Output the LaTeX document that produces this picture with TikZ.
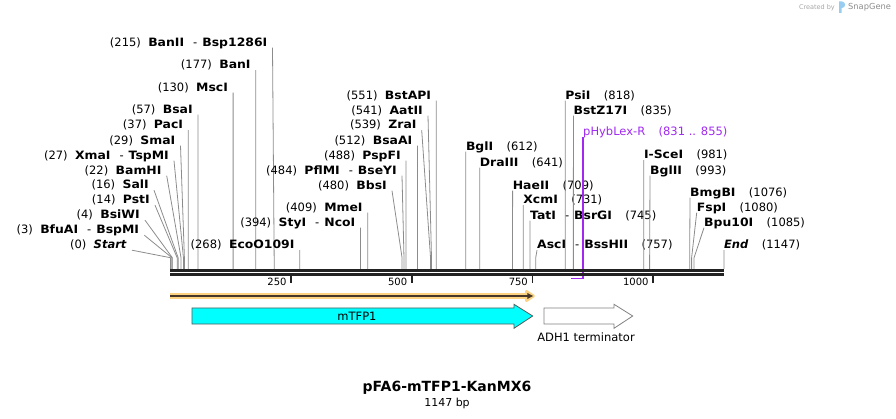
\documentclass[tikz,border=0pt]{standalone}
\usepackage{fontspec}
\setmainfont{DejaVu Sans}[BoldFeatures={FakeStretch=1.08}]
\newfontfamily\titlefont{DejaVu Sans}
\usetikzlibrary{arrows.meta}
\definecolor{cutgray}{RGB}{140,140,140}
\definecolor{barblack}{RGB}{34,34,34}
\definecolor{primerviolet}{RGB}{160,40,240}
\definecolor{orfglow}{RGB}{253,210,130}
\definecolor{orfline}{RGB}{70,55,40}
\definecolor{featcyan}{RGB}{0,255,255}
\definecolor{logoblue}{RGB}{150,205,240}
\newcommand\orsep{\hspace{9pt}\textmd{-}\hspace{5pt}}
\tikzset{
  enzyme/.style={inner sep=0pt, font=\fontsize{11.5}{13}\selectfont\bfseries},
  sitepos/.style={inner sep=0pt, font=\fontsize{11.5}{13}\selectfont},
  cutline/.style={draw=cutgray, line width=0.8pt},
  featarrow/.style={draw=black!65, line width=0.8pt},
}
\begin{document}
\begin{tikzpicture}[x=1pt,y=-1pt]
  \useasboundingbox (0,0) rectangle (896,419);
  % enzymes written left of their cut
  \foreach \p/\nm/\ax/\y [count=\i] in {215/BanII\orsep Bsp1286I/267.5/42,177/BanI/250.8/64.5,
            130/MscI/228.1/87,57/BsaI/192.9/109,37/PacI/183.3/124.5,29/SmaI/175.5/140,
            27/XmaI\orsep TspMI/169/155,22/BamHI/161.7/170,16/SalI/149/184.5,14/PstI/150/199.5,
            4/BsiWI/140/214.5,3/BfuAI\orsep BspMI/139.3/229.5,0/\textit{Start}/127/244.5,
            268/EcoO109I/294.7/244.5,394/StyI\orsep NcoI/355.5/222,409/MmeI/362.8/207,
            480/BbsI/387/185,484/PflMI\orsep BseYI/397/170,488/PspFI/400.9/155,
            512/BsaAI/412.5/140,539/ZraI/416.7/124.5,541/AatII/423/110,551/BstAPI/431.3/95}{
    \pgfmathsetmacro\sx{170.4+\p*0.4826}
    \node[enzyme, anchor=base east] (L\i) at (\ax,\y+4.2) {\nm};
    \node[sitepos, anchor=base east] (Ln\i) at ([xshift=-7pt]L\i.base west) {(\p)};
    \coordinate (La\i) at ([shift={(5,1.5)}]L\i.base east);
    \coordinate (Le\i) at (\sx,257.7);
    \coordinate (Ls\i) at (\sx,269.2);
    \draw[cutline] (La\i) -- (Le\i) -- (Ls\i);
  }
  % enzymes written right of their cut
  \foreach \p/\nm/\ax/\y [count=\i] in {612/BglI/465.8/146,641/DraIII/479.7/162,709/HaeII/512.6/185,
            731/XcmI/523.2/199.5,745/TatI\orsep BsrGI/530/215,757/AscI\orsep BssHII/537/244.5,
            818/PsiI/565.2/95,835/BstZ17I/573.4/110,981/I-SceI/643.8/154.5,993/BglII/650/170,
            1076/BmgBI/690/192,1080/FspI/696.7/207,1085/Bpu10I/704/222,1147/\textit{End}/723.9/244.5}{
    \pgfmathsetmacro\sx{170.4+\p*0.4826}
    \node[enzyme, anchor=base west] (R\i) at (\ax,\y+4.2) {\nm};
    \node[sitepos, anchor=base west] (Rn\i) at ([xshift=13pt]R\i.base east) {(\p)};
    \coordinate (Ra\i) at ([shift={(0,1.5)}]R\i.base west);
    \coordinate (Re\i) at (\sx,257.7);
    \coordinate (Rs\i) at (\sx,269.2);
    \draw[cutline] (Ra\i) -- (Re\i) -- (Rs\i);
  }
  % primer
  \node[sitepos, text=primerviolet, anchor=base west] (primer) at (583,135.9) {pHybLex-R};
  \node[sitepos, text=primerviolet, anchor=base west] (primerpos) at ([xshift=13pt]primer.base east) {(831 .. 855)};
  \coordinate (primerend) at (571.4,278.3);
  \draw[primerviolet, line width=1.2pt] ([shift={(0,1.5)}]primer.base west) |- (primerend);
  % sequence
  \coordinate (seqstart) at (170.4,270.5);
  \coordinate (seqend) at (723.9,270.5);
  \draw[barblack, line width=2.4pt] (seqstart) -- (seqend);
  \draw[barblack, line width=2.4pt] ([yshift=-4pt]seqstart) -- ([yshift=-4pt]seqend);
  \foreach \t in {250,500,750,1000}{
    \pgfmathsetmacro\tx{170.4+\t*0.4826}
    \coordinate (tk\t) at (\tx,276.3);
    \draw[barblack, line width=1.6pt] (tk\t) -- ++(0,6.5);
    \node[inner sep=0pt, font=\fontsize{10}{12}\selectfont, anchor=east] (tl\t) at (\tx-4.3,281.7) {\t};
  }
  % ORF
  \coordinate (orfstart) at (170.4,296);
  \coordinate (orfend) at (533.3,296);
  \draw[orfglow, line width=5.5pt] (orfstart) -- ([xshift=-4pt]orfend);
  \filldraw[orfglow, line width=3pt, line join=round] (526.5,291.5) -- (orfend) -- (526.5,300.5) -- cycle;
  \draw[orfline, line width=1.8pt, -{Triangle[length=6pt, width=5.5pt]}] (orfstart) -- (orfend);
  % features
  \filldraw[featarrow, fill=featcyan] (192,308) -- (514,308) -- (514,304.3) -- (532.7,316)
    -- (514,328.3) -- (514,324) -- (192,324) -- cycle;
  \node[font=\fontsize{11.5}{13}\selectfont] (mtfp) at (357,316) {mTFP1};
  \filldraw[featarrow, draw=black!50, fill=white] (544,308) -- (614,308) -- (614,304.3) -- (632.7,316)
    -- (614,328.3) -- (614,324) -- (544,324) -- cycle;
  \node[font=\fontsize{11.5}{13}\selectfont] (adh) at (586,337) {ADH1 terminator};
  % title
  \node[font=\titlefont\fontsize{14}{16}\selectfont\bfseries] (title) at (447,388) {pFA6-mTFP1-KanMX6};
  \node[font=\fontsize{11}{13}\selectfont] (size) at (447,403.3) {1147 bp};
  % watermark
  \node[inner sep=0pt, font=\fontsize{6.5}{8}\selectfont, text=black!35, anchor=east] (madeby) at (835,7.3) {Created by};
  \fill[logoblue] (839,13) -- (839,1.5) -- (842,1.5) .. controls (846,1.5) and (846,8) .. (842,8) -- (841.5,8) -- (841.5,13) -- cycle;
  \node[inner sep=0pt, font=\fontsize{8.3}{10}\selectfont, text=black!45, anchor=west] (snapgene) at (848,7.3) {SnapGene};
\end{tikzpicture}
\end{document}
